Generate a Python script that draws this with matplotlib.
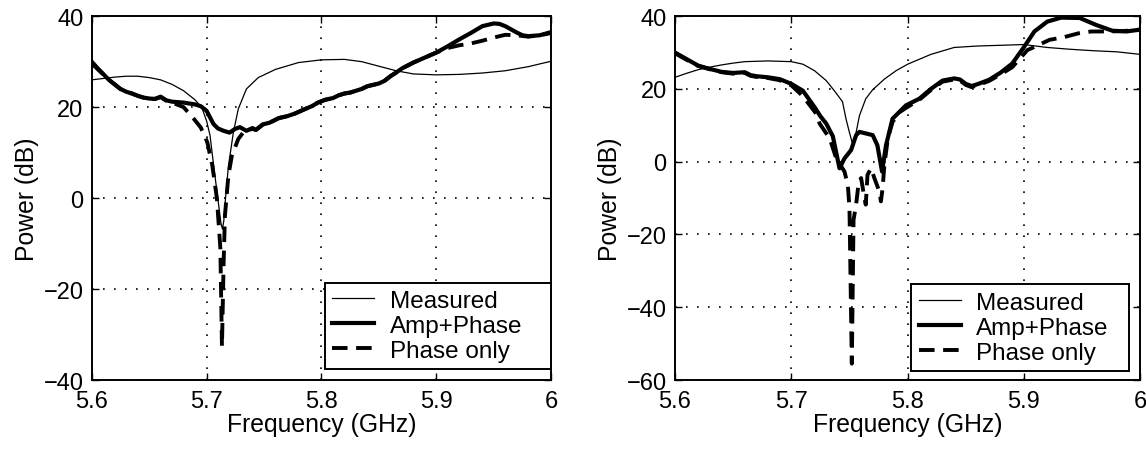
import matplotlib
matplotlib.use("Agg")
import matplotlib.pyplot as plt

# ---------------- left panel ----------------
left_meas_f = [5.600, 5.610, 5.620, 5.630, 5.640, 5.650, 5.660, 5.670, 5.680, 5.690,
               5.696, 5.700, 5.703, 5.706, 5.709, 5.711, 5.7125, 5.7138, 5.715, 5.7165,
               5.719, 5.7233, 5.7276, 5.7347, 5.745, 5.760, 5.780, 5.800, 5.820, 5.835,
               5.850, 5.865, 5.880, 5.900, 5.920, 5.940, 5.960, 5.980, 6.000]
left_meas_db = [26.0, 26.3, 26.6, 26.8, 26.8, 26.5, 26.0, 25.0, 23.6, 21.6,
                19.8, 17.0, 13.8, 7.5, 1.5, -2.5, -5.5, -6.8, -5.0, 0.0,
                7.0, 14.4, 19.6, 24.0, 26.5, 28.3, 29.8, 30.4, 30.5, 30.0,
                29.0, 28.0, 27.3, 27.1, 27.2, 27.5, 28.0, 28.9, 30.1]

left_amp_f = [5.600, 5.605, 5.610, 5.615, 5.620, 5.625, 5.630, 5.635, 5.640, 5.645,
              5.650, 5.655, 5.660, 5.665, 5.670, 5.680, 5.690, 5.695, 5.700, 5.706,
              5.710, 5.7148, 5.720, 5.7247, 5.729, 5.7347, 5.740, 5.743, 5.749, 5.755,
              5.763, 5.770, 5.777, 5.785, 5.7915, 5.797, 5.803, 5.810, 5.815, 5.820,
              5.825, 5.830, 5.835, 5.840, 5.845, 5.850, 5.855, 5.860, 5.865, 5.870,
              5.880, 5.890, 5.900, 5.910, 5.920, 5.930, 5.940, 5.950, 5.955, 5.960,
              5.970, 5.975, 5.980, 5.990, 6.000]
left_amp_db = [30.0, 28.6, 27.3, 26.0, 25.0, 24.0, 23.4, 23.0, 22.5, 22.1,
               21.9, 21.8, 22.3, 21.5, 21.2, 21.0, 20.6, 20.2, 19.2, 16.3,
               15.3, 14.8, 14.4, 15.2, 15.6, 14.8, 15.4, 15.0, 16.2, 16.6,
               17.6, 18.0, 18.6, 19.5, 20.2, 21.0, 21.6, 22.0, 22.6, 23.0,
               23.2, 23.6, 24.0, 24.6, 24.9, 25.2, 25.8, 26.8, 27.6, 28.5,
               29.8, 30.9, 32.0, 33.4, 34.9, 36.3, 37.8, 38.4, 38.3, 37.8,
               36.4, 35.8, 35.6, 35.8, 36.5]

left_phase_f = [5.600, 5.605, 5.610, 5.615, 5.620, 5.625, 5.630, 5.635, 5.640, 5.645,
                5.650, 5.655, 5.660, 5.665, 5.670, 5.680, 5.689, 5.695, 5.7006, 5.705,
                5.709, 5.712, 5.7134, 5.7148, 5.716, 5.719, 5.722, 5.7276, 5.733, 5.740,
                5.743, 5.749, 5.755, 5.763, 5.770, 5.777, 5.785, 5.7915, 5.797, 5.803,
                5.810, 5.815, 5.820, 5.825, 5.830, 5.835, 5.840, 5.845, 5.850, 5.855,
                5.860, 5.865, 5.870, 5.880, 5.890, 5.900, 5.910, 5.920, 5.930, 5.940,
                5.950, 5.960, 5.970, 5.980, 5.990, 6.000]
left_phase_db = [29.6, 28.4, 27.2, 26.0, 25.0, 24.0, 23.3, 23.0, 22.5, 22.1,
                 21.9, 21.8, 22.2, 21.4, 21.0, 20.0, 17.4, 15.5, 12.3, 7.2,
                 -0.1, -11.0, -32.6, -14.7, -3.8, 5.0, 9.3, 13.0, 14.8, 15.2,
                 15.0, 16.2, 16.6, 17.6, 18.0, 18.6, 19.5, 20.2, 21.0, 21.6,
                 22.0, 22.6, 23.0, 23.2, 23.6, 24.0, 24.6, 24.9, 25.2, 25.8,
                 26.8, 27.6, 28.5, 29.8, 30.9, 32.0, 33.0, 33.6, 34.0, 34.6,
                 35.3, 35.9, 35.8, 35.5, 35.8, 36.3]

# ---------------- right panel ----------------
right_meas_f = [5.600, 5.610, 5.620, 5.630, 5.640, 5.650, 5.660, 5.680, 5.700, 5.710,
                5.720, 5.730, 5.737, 5.744, 5.747, 5.750, 5.753, 5.756, 5.7586, 5.764,
                5.770, 5.780, 5.790, 5.800, 5.820, 5.840, 5.860, 5.880, 5.900, 5.910,
                5.920, 5.940, 5.960, 5.980, 6.000]
right_meas_db = [23.2, 24.3, 25.3, 26.0, 26.6, 27.1, 27.5, 27.7, 27.5, 26.8,
                 25.0, 22.3, 19.5, 16.5, 11.8, 8.0, 4.5, 8.5, 12.7, 17.3,
                 19.8, 22.7, 25.0, 26.8, 29.5, 31.4, 31.8, 32.0, 32.2, 31.8,
                 31.4, 30.9, 30.5, 30.2, 29.5]

right_amp_f = [5.600, 5.610, 5.620, 5.630, 5.640, 5.650, 5.660, 5.665, 5.670, 5.680,
               5.690, 5.700, 5.710, 5.720, 5.725, 5.730, 5.7357, 5.7414, 5.7457, 5.7514,
               5.7557, 5.7586, 5.765, 5.770, 5.774, 5.778, 5.7814, 5.787, 5.7986, 5.810,
               5.820, 5.830, 5.840, 5.845, 5.850, 5.855, 5.860, 5.870, 5.880, 5.890,
               5.900, 5.909, 5.920, 5.932, 5.948, 5.962, 5.976, 5.988, 6.000]
right_amp_db = [30.0, 28.2, 26.4, 25.5, 24.7, 24.4, 24.6, 23.8, 23.5, 23.2,
                22.7, 21.4, 19.5, 15.0, 12.5, 10.5, 7.0, -1.8, 0.9, 3.2,
                7.3, 8.2, 7.7, 7.3, 4.5, -2.7, 4.5, 11.8, 15.5, 17.3,
                20.0, 22.3, 22.9, 22.6, 21.4, 20.8, 21.3, 22.5, 24.5, 27.0,
                31.5, 35.8, 38.5, 39.6, 39.5, 37.6, 36.0, 35.8, 36.3]

right_phase_f = [5.600, 5.610, 5.620, 5.630, 5.640, 5.650, 5.660, 5.665, 5.670, 5.680,
                 5.690, 5.700, 5.710, 5.7214, 5.7243, 5.733, 5.7386, 5.7457, 5.7486, 5.750,
                 5.752, 5.7535, 5.7557, 5.7580, 5.760, 5.7629, 5.764, 5.7655, 5.7686, 5.7714,
                 5.7757, 5.777, 5.7785, 5.780, 5.783, 5.787, 5.793, 5.7986, 5.810, 5.820,
                 5.830, 5.840, 5.845, 5.850, 5.855, 5.860, 5.870, 5.880, 5.890, 5.903,
                 5.908, 5.922, 5.934, 5.947, 5.958, 5.973, 5.985, 6.000]
right_phase_db = [29.8, 28.0, 26.3, 25.4, 24.6, 24.2, 24.4, 23.6, 23.3, 23.0,
                  22.4, 21.0, 18.0, 13.2, 10.5, 6.4, 0.9, -2.7, -6.4, -12.7,
                  -55.5, -16.0, -11.8, -5.5, -4.5, -10.0, -11.8, -3.6, -1.8, -4.5,
                  -8.2, -10.9, -7.3, -0.9, 6.4, 10.9, 13.6, 14.8, 17.0,
                  19.7, 22.0, 22.6, 22.3, 21.1, 20.5, 21.0, 22.2, 24.0, 26.0, 30.7,
                  31.4, 33.5, 34.2, 35.3, 35.8, 35.8, 35.9, 36.3]

x_ticks = [5.6, 5.7, 5.8, 5.9, 6.0]
x_tick_labels = ["5.6", "5.7", "5.8", "5.9", "6"]
left_y_ticks = [-40, -20, 0, 20, 40]
right_y_ticks = [-60, -40, -20, 0, 20, 40]
series_names = ["Measured", "Amp+Phase", "Phase only"]

plt.rcParams["font.family"] = ["Liberation Sans", "DejaVu Sans"]
plt.rcParams["axes.unicode_minus"] = True

TICK_FS = 17
LABEL_FS = 17.8
LEG_FS = 17.5
fig = plt.figure(figsize=(11.46, 4.52), dpi=100)
ax_l = fig.add_axes([0.080, 0.157, 0.401, 0.805])
ax_r = fig.add_axes([0.589, 0.157, 0.406, 0.805])

dash = (0, (4.0, 2.2))


def draw_panel(ax, mf, md, af, ad, pf, pd, yticks, legend_box):
    ax.plot(mf, md, color="black", lw=0.9, label=series_names[0])
    ax.plot(af, ad, color="black", lw=3.0, label=series_names[1],
            solid_joinstyle="round")
    ax.plot(pf, pd, color="black", lw=2.8, linestyle=dash, label=series_names[2])
    ax.set_xlim(5.6, 6.0)
    ax.set_ylim(yticks[0], yticks[-1])
    ax.set_xticks(x_ticks)
    ax.set_xticklabels(x_tick_labels)
    ax.set_yticks(yticks)
    ax.grid(True, color="black", linestyle=(0, (1, 5.6)), linewidth=1.2)
    ax.tick_params(direction="in", length=5, width=1.0, labelsize=TICK_FS,
                   top=True, right=True)
    ax.tick_params(axis="x", pad=7)
    ax.tick_params(axis="y", pad=6)
    for s in ax.spines.values():
        s.set_linewidth(1.4)
    ax.set_xlabel("Frequency (GHz)", fontsize=LABEL_FS, labelpad=0)
    ax.set_ylabel("Power (dB)", fontsize=LABEL_FS, labelpad=3)
    leg = ax.legend(loc="lower left", bbox_to_anchor=legend_box, mode="expand",
                    fontsize=LEG_FS, frameon=True, fancybox=False, shadow=False,
                    borderaxespad=0, handlelength=1.75, handletextpad=0.62,
                    labelspacing=0.12, borderpad=0.3)
    fr = leg.get_frame()
    fr.set_edgecolor("black")
    fr.set_linewidth(1.4)
    fr.set_alpha(1)


draw_panel(ax_l, left_meas_f, left_meas_db, left_amp_f, left_amp_db,
           left_phase_f, left_phase_db, left_y_ticks, (0.507, 0.03, 0.493, 0.3))
draw_panel(ax_r, right_meas_f, right_meas_db, right_amp_f, right_amp_db,
           right_phase_f, right_phase_db, right_y_ticks, (0.508, 0.025, 0.467, 0.3))

fig.savefig("out.png", dpi=100)
